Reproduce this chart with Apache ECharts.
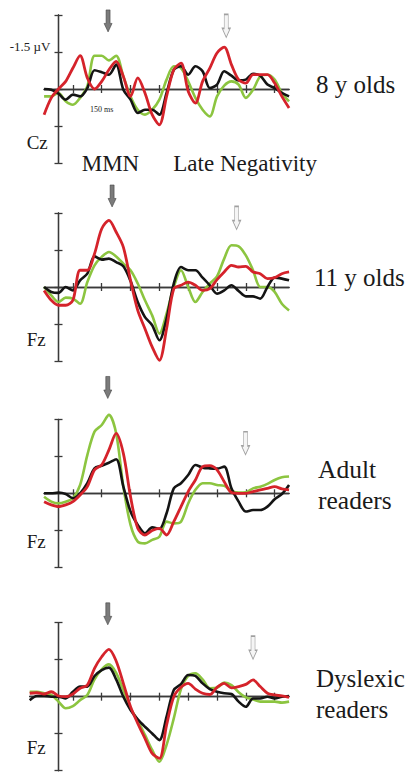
<!DOCTYPE html>
<html><head><meta charset="utf-8">
<script src="https://cdn.jsdelivr.net/npm/echarts@6/dist/echarts.min.js"></script>
<style>html,body{margin:0;padding:0;background:#fff}#c{width:409px;height:772px}</style>
</head><body><div id="c"></div>
<script>
// ---- data (time in ms, amplitude in µV; negative plotted upwards) ----
const times = [-50,-25,0,25,50,75,100,125,150,175,200,225,250,275,300,325,350,375,400,425,450,475,500,525,550,575,600,625,650,675,700,725,750,775,800];
const timesDys = [-100,-75,-50,-25,0,25,50,75,100,125,150,175,200,225,250,275,300,325,350,375,400,425,450,475,500,525,550,575,600,625,650,675,700,725,750,775,800];
const xTicks = [50,150,250,350,450,550,650,750];
const yTicks = [-3,-1.5,0,1.5,3];

const age8Red   = [1.04,0.36,0,-0.31,-0.85,-1.35,-0.45,0,-0.31,-0.78,-1.12,-0.51,0.30,-0.45,0.16,1.04,1.45,0.30,-0.78,-1.05,0.09,0.57,-0.31,-0.85,-1.46,-1.70,-0.99,-0.38,-0.24,-0.58,-0.58,-0.58,-0.24,0.30,0.77];
const age8Green = [0.30,0.30,0.16,0.50,0.64,0.36,-0.11,-1.35,-1.35,-1.16,-1.35,-0.51,0.30,0.84,1.04,0.84,0.43,-0.38,-0.92,-0.85,-0.31,0.36,0.84,1.11,0.30,-0.14,-0.31,-0.18,0.36,0.03,-0.51,-0.58,-0.38,0.16,0.50];
const age8Black = [0,0.03,0.19,0.43,0.23,0.30,-0.04,-0.76,-0.68,-0.58,-0.99,0.03,0.43,0.97,0.84,0.84,1.04,0.16,-0.78,-0.92,-0.58,-0.92,-0.72,-0.04,-0.18,-0.72,-0.54,-0.35,-0.38,-0.62,-0.54,-0.18,-0.04,0.16,0.30];

const age11Red   = [0.14,0.54,0.74,0.74,0.54,-0.68,-0.68,-1.35,-2.36,-2.70,-2.23,-1.62,-0.27,0.95,1.69,2.43,2.97,1.69,0.07,-0.07,-0.20,-0.07,0.14,0.07,-0.30,-0.61,-0.88,-0.81,-0.84,-0.61,-0.54,-0.34,-0.38,-0.54,-0.61];
const age11Green = [0,0.34,0.61,0.43,0.47,0.68,-0.20,-0.88,-1.22,-1.42,-1.24,-0.95,-0.68,-0.14,0.54,1.15,1.89,1.08,0,-0.68,0,0.61,0.20,-0.14,-0.43,-1.15,-1.69,-1.65,-1.28,-0.68,0,0,0.20,0.68,0.95];
const age11Black = [0,0.20,0.24,0,0.14,-0.27,-0.54,-1.24,-1.11,-1.15,-1.01,-0.84,-0.24,0.61,1.22,1.55,2.16,1.28,-0.14,-0.81,-0.68,-0.68,-0.38,-0.07,0.27,0.14,-0.07,0.16,0.38,0.38,0.47,0,-0.38,-0.34,-0.27];

const adultRed   = [0.34,0.47,0.54,0.47,0.34,0.07,-0.27,-0.95,-1.15,-1.76,-2.43,-1.62,0.14,1.42,1.69,1.51,1.42,1.69,1.15,0.54,-0.07,-0.54,-1.08,-1.12,-0.95,-0.47,-0.03,0,0,-0.07,-0.14,-0.20,-0.27,-0.18,-0.14];
const adultGreen = [0.14,0.34,0.41,0.34,0.20,-0.34,-1.55,-2.50,-2.77,-3.18,-2.43,-0.27,1.28,1.96,2.03,1.89,1.76,1.15,1.22,1.15,0.41,-0.14,-0.41,-0.41,-0.34,-0.30,-0.11,-0.03,-0.04,-0.20,-0.27,-0.38,-0.54,-0.65,-0.68];
const adultBlack = [0,0,-0.03,0.03,0.20,0,-0.41,-1.01,-1.12,-1.24,-1.38,-0.27,0.74,1.28,1.62,1.38,1.45,0.81,-0.20,-0.41,-0.74,-1.15,-1.04,-1.01,-1.00,-1.08,-0.20,0.34,0.74,0.68,0.68,0.54,0.24,0.03,-0.34];

const dysRed   = [-0.14,-0.16,-0.11,-0.20,-0.03,0,-0.11,-0.34,-0.47,-1.15,-1.62,-1.92,-1.45,-0.54,0.41,1.08,1.69,2.30,2.50,1.15,0,-0.38,-0.54,-0.31,-0.14,-0.09,-0.38,-0.54,-0.36,-0.41,-0.50,-0.68,-0.41,-0.14,-0.07,-0.03,0.03];
const dysGreen = [-0.20,-0.20,-0.14,-0.07,0.20,0.47,0.38,0.14,-0.07,-0.70,-1.11,-1.31,-0.97,-0.27,0.47,0.97,1.55,2.16,2.64,1.95,0.88,-0.31,-0.84,-0.95,-0.70,-0.34,-0.36,-0.57,-0.47,-0.18,0.03,0.11,0.20,0.20,0.20,0.24,0.20];
const dysBlack = [0.14,-0.03,-0.03,0,0,0.07,-0.20,-0.41,-0.41,-0.84,-1.08,-1.18,-0.70,0,0.54,0.92,1.22,1.49,1.76,0.81,-0.27,-0.51,-0.88,-0.84,-0.54,-0.31,-0.20,-0.14,-0.11,0.20,0.41,0.07,0.07,0,0.07,0,-0.03];

// arrow annotations [ms, µV]
const mmnArrows  = [[172,-2.76],[186,-3.69],[171,-4.29],[171,-3.36]];
const lateArrows = [[582,-2.56],[618,-2.80],[649,-2.03],[675,-1.99]];

const groupLabels = ['8 y olds','11 y olds','Adult\nreaders','Dyslexic\nreaders'];
const siteLabels = ['Cz','Fz','Fz','Fz'];

// ---- layout ----
const PXMS = 0.2882, X0 = 58.5, GH = 148;
const gridTops = [15, 213, 419.3, 622.7];
const FONT = 'Liberation Serif';
const COL = {red:'#d5232b', green:'#8cc540', black:'#141414'};
const ARROW = 'path://M2,0 L6,0 L6,13.5 L8,13.5 L4,22 L0,13.5 L2,13.5 Z';

const panelSets = [
  {t: times,    red: age8Red,  green: age8Green,  black: age8Black},
  {t: times,    red: age11Red, green: age11Green, black: age11Black},
  {t: times,    red: adultRed, green: adultGreen, black: adultBlack},
  {t: timesDys, red: dysRed,   green: dysGreen,   black: dysBlack}
];

const grid = [], xAxis = [], yAxis = [], series = [];
const axisLineStyle = {color:'#3a3a3a', width:1.3};
panelSets.forEach((p, i) => {
  const tmin = p.t[0], tmax = p.t[p.t.length - 1];
  const gLeft = X0 + tmin * PXMS;
  grid.push({left: gLeft, width: (tmax - tmin) * PXMS, top: gridTops[i], height: GH,
             containLabel: false, outerBoundsMode: 'none'});
  ['bottom','top'].forEach((pos, k) => {
    xAxis.push({
      type:'value', gridIndex:i, min:tmin, max:tmax, position:pos,
      axisLine:{onZero:true, onZeroAxisIndex:2*i, lineStyle:axisLineStyle},
      axisTick:{show:true, length:4, customValues:xTicks, lineStyle:axisLineStyle},
      // labels of an on-zero axis stay at the grid edge, so pull this one back up to the zero line
      axisLabel: (i === 0 && k === 0) ? {show:true, customValues:[150], formatter:() => '150 ms',
                   fontSize:8, fontFamily:FONT, color:'#222', margin:16 - GH / 2} : {show:false},
      splitLine:{show:false}
    });
  });
  ['left','right'].forEach((pos, k) => {
    yAxis.push({
      type:'value', gridIndex:i, min:yTicks[0], max:yTicks[yTicks.length - 1], interval:1.5, inverse:true, position:pos,
      axisLine:{show:true, onZero:true, onZeroAxisIndex:2*i, lineStyle:axisLineStyle},
      axisTick:{show:true, length:4, lineStyle:axisLineStyle},
      axisLabel: (i === 0 && k === 0) ? {show:true, formatter:v => v === -1.5 ? '-1.5 µV' : '',
                   fontSize:13, fontFamily:FONT, color:'#222', margin:gLeft - X0 + 8,
                   verticalAlign:'bottom', lineHeight:11} : {show:false},
      splitLine:{show:false}
    });
  });
  [['green', p.green], ['black', p.black], ['red', p.red]].forEach(([c, vals], k) => {
    series.push({
      type:'line', xAxisIndex:2*i, yAxisIndex:2*i, data:p.t.map((t, j) => [t, vals[j]]),
      symbol:'none', smooth:0.3, clip:false, z:3 + k, silent:true,
      lineStyle:{color:COL[c], width: c === 'red' ? 2.8 : 2.6}
    });
  });
  series.push({type:'scatter', xAxisIndex:2*i, yAxisIndex:2*i, clip:false, silent:true, z:6,
    symbol:ARROW, symbolSize:[8,22], symbolKeepAspect:false,
    data:[mmnArrows[i]], itemStyle:{color:'#5a5a5a', borderColor:'#3a3a3a', borderWidth:0.6}});
  series.push({type:'scatter', xAxisIndex:2*i, yAxisIndex:2*i, clip:false, silent:true, z:6,
    symbol:ARROW, symbolSize:[8,23], symbolKeepAspect:false,
    data:[lateArrows[i]], itemStyle:{color:'#f2f2f2', borderColor:'#8a8a8a', borderWidth:1}});
});

const txt = (text, x, y, size, extra) => ({type:'text', x, y, silent:true,
  style:Object.assign({text, fontSize:size, fontFamily:FONT, fill:'#1a1a1a', align:'left', verticalAlign:'middle'}, extra || {})});
const graphic = [
  txt(groupLabels[0], 316, 84, 25),
  txt(groupLabels[1], 314, 277, 25),
  txt(groupLabels[2], 318, 485, 25.5, {lineHeight:30.6}),
  txt(groupLabels[3], 316, 694, 25, {lineHeight:30.6}),
  txt('MMN', 81.7, 163, 23),
  txt('Late Negativity', 173.3, 163, 23),
  txt(siteLabels[0], 26.7, 142, 19),
  txt(siteLabels[1], 26.7, 339, 19),
  txt(siteLabels[2], 26.7, 541, 19),
  txt(siteLabels[3], 26.7, 747, 19)
];

const chart = echarts.init(document.getElementById('c'), null, {renderer:'svg'});
chart.setOption({backgroundColor:'#fff', animation:false, grid, xAxis, yAxis, series, graphic});
</script></body></html>
